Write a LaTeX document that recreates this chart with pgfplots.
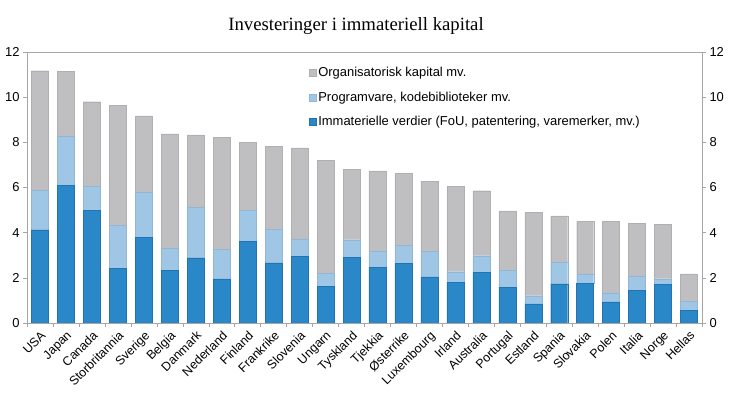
\documentclass[border=0pt]{standalone}
\usepackage{fontspec}
\setmainfont{Liberation Sans}
\newfontfamily\titlefont{Liberation Serif}
\usepackage{pgfplots}
\pgfplotsset{compat=1.18}
\usepackage{pgfplotstable}

\definecolor{immblue}{HTML}{2B88C8}
\definecolor{immblueedge}{HTML}{2274B0}
\definecolor{proglight}{HTML}{A0C6E5}
\definecolor{orggray}{HTML}{BFBFC1}
\definecolor{axisgray}{HTML}{A6A6A6}

% x: land, b: immaterielle verdier, l: programvare, g: organisatorisk kapital
\pgfplotstableread{
x b l g
0 4.13 1.77 5.27
1 6.09 2.20 2.84
2 5.00 1.05 3.75
3 2.43 1.89 5.32
4 3.79 2.01 3.37
5 2.33 1.00 5.04
6 2.89 2.23 3.21
7 1.95 1.30 4.97
8 3.63 1.37 3.00
9 2.67 1.48 3.66
10 2.94 0.78 4.04
11 1.61 0.59 5.00
12 2.92 0.77 3.11
13 2.46 0.73 3.55
14 2.63 0.82 3.19
15 2.04 1.13 3.10
16 1.81 0.46 3.78
17 2.23 0.75 2.88
18 1.59 0.73 2.65
19 0.85 0.36 3.70
20 1.74 0.96 2.04
21 1.77 0.40 2.33
22 0.93 0.40 3.16
23 1.46 0.63 2.32
24 1.71 0.25 2.42
25 0.56 0.40 1.22
}\data

\pgfplotsset{
  commonaxis/.style={
    at={(27bp,79bp)}, anchor=south west,
    width=675bp, height=271bp, scale only axis,
    xmin=-0.5, xmax=25.5, ymin=0, ymax=12,
    ytick={0,2,...,12},
    tick align=outside,
    major tick length=4bp,
    minor tick length=4bp,
    axis line style={axisgray},
    every tick/.style={axisgray},
    /pgf/number format/assume math mode=true,
    yticklabel style={font=\fontsize{13}{15}\selectfont},
  },
}

\begin{document}
\begin{tikzpicture}
\path[use as bounding box] (0,0) rectangle (730bp,402bp);
\node[font=\titlefont\fontsize{18.8}{22}\selectfont] at (356bp,376bp) {Investeringer i immateriell kapital};
\begin{axis}[
  commonaxis,
  ybar stacked,
  bar width=17bp,
  ytick pos=left,
  xtick={0,1,...,25},
  xticklabels={USA,Japan,Canada,Storbritannia,Sverige,Belgia,Danmark,Nederland,Finland,Frankrike,Slovenia,Ungarn,Tyskland,Tjekkia,Østerrike,Luxembourg,Irland,Australia,Portugal,Estland,Spania,Slovakia,Polen,Italia,Norge,Hellas},
  minor xtick={-0.5,0.5,...,25.5},
  xtick pos=bottom,
  every major x tick/.append style={draw=none},
  xticklabel style={rotate=45, anchor=north east, inner sep=1bp, xshift=-1bp, yshift=-1bp,
    font=\fontsize{12.5}{14}\selectfont},
  reverse legend,
  legend cell align=left,
  legend style={at={(0.413,0.958)}, anchor=north west, draw=none, fill=none,
    font=\fontsize{13}{15}\selectfont, row sep=9.5bp},
  legend image code/.code={\fill[#1] (0bp,-3.5bp) rectangle (7bp,3.5bp);},
]
\addplot[fill=immblue, draw=immblueedge, line width=0.4pt] table[x=x, y=b] {\data};
\addlegendentry{Immaterielle verdier (FoU, patentering, varemerker, mv.)}
\addplot[fill=proglight, draw=proglight!92!black, line width=0.3pt] table[x=x, y=l] {\data};
\addlegendentry{Programvare, kodebiblioteker mv.}
\addplot[fill=orggray, draw=orggray!92!black, line width=0.3pt] table[x=x, y=g] {\data};
\addlegendentry{Organisatorisk kapital mv.}
\end{axis}
\begin{axis}[
  commonaxis,
  axis x line=none,
  axis y line*=right,
]
\end{axis}
\end{tikzpicture}
\end{document}
